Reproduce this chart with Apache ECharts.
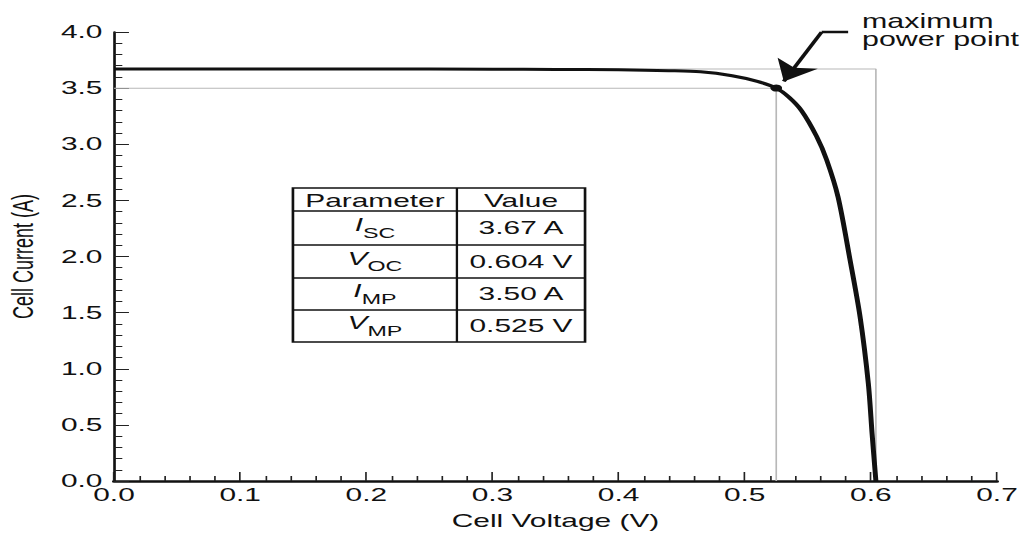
<!DOCTYPE html>
<html>
<head>
<meta charset="utf-8">
<script src="https://cdn.jsdelivr.net/npm/echarts@6.0.0/dist/echarts.min.js"></script>
<style>
  html, body { margin: 0; padding: 0; background: #fff; overflow: hidden; }
  #chart { width: 620px; height: 536px; transform: scaleX(1.6597); transform-origin: 0 0; }
</style>
</head>
<body>
<div id="chart"></div>
<script>
// ---- Data ----
const voltage = [0, 0.1, 0.2, 0.3, 0.35, 0.4, 0.44, 0.465, 0.49, 0.51, 0.525, 0.535, 0.545, 0.557, 0.565, 0.574, 0.5835, 0.5915, 0.598, 0.601, 0.604];
const current = [3.67, 3.67, 3.67, 3.669, 3.667, 3.663, 3.655, 3.645, 3.61, 3.56, 3.50, 3.42, 3.30, 3.07, 2.86, 2.53, 1.97, 1.46, 0.87, 0.42, 0];
const ISC = 3.67, VOC = 0.604, IMP = 3.50, VMP = 0.525;
const xTicks = [0, 0.7, 0.1];   // min, max, interval
const yTicks = [0, 4.0, 0.5];
const arrowX = [0.582, 0.561, 0.531];
const arrowY = [4.0, 4.0, 3.56];
const annotationLines = ['maximum', 'power point'];
const tableHeader = ['Parameter', 'Value'];
const tableParams = [['I', 'SC'], ['V', 'OC'], ['I', 'MP'], ['V', 'MP']];
const tableValues = ['3.67 A', '0.604 V', '3.50 A', '0.525 V'];

const FONT = '"Liberation Sans", Arial, Helvetica, sans-serif';
const chart = echarts.init(document.getElementById('chart'), null, { renderer: 'svg' });

const curveData = voltage.map((v, i) => [v, current[i]]);
const iscBox = [[0, ISC], [VOC, ISC], [VOC, 0]];
const mpBox = [[0, IMP], [VMP, IMP], [VMP, 0]];

// table layout (unscaled px)
const tx = [176.5, 275.3, 352.5];
const ty = [188, 211, 245, 278, 310, 342];
const tableEls = [];
tableEls.push({ type: 'rect', shape: { x: tx[0], y: ty[0], width: tx[2] - tx[0], height: ty[5] - ty[0] },
  style: { fill: '#fff', stroke: '#111', lineWidth: 1.6 } });
tableEls.push({ type: 'line', shape: { x1: tx[1], y1: ty[0], x2: tx[1], y2: ty[5] }, style: { stroke: '#111', lineWidth: 1.4 } });
for (let r = 1; r < 5; r++) {
  tableEls.push({ type: 'line', shape: { x1: tx[0], y1: ty[r], x2: tx[2], y2: ty[r] }, style: { stroke: '#111', lineWidth: 1.6 } });
}
tableHeader.forEach((h, c) => {
  tableEls.push({ type: 'text', x: (tx[c] + tx[c + 1]) / 2, y: (ty[0] + ty[1]) / 2 + 1,
    style: { text: h, font: '18px ' + FONT, fill: '#111', align: 'center', verticalAlign: 'middle' } });
});
tableParams.forEach((p, r) => {
  tableEls.push({ type: 'text', x: (tx[0] + tx[1]) / 2, y: (ty[r + 1] + ty[r + 2]) / 2,
    style: { text: '{it|' + p[0] + '}{sub|' + p[1] + '}', fill: '#111', align: 'center', verticalAlign: 'middle',
      rich: {
        it: { fontFamily: FONT, fontSize: 18, fontStyle: 'italic', fill: '#111', lineHeight: 24, verticalAlign: 'top', padding: [0, 0, 6, 0] },
        sub: { fontFamily: FONT, fontSize: 14, fill: '#111', lineHeight: 24, verticalAlign: 'bottom', padding: [8, 0, 0, 0] }
      } } });
  tableEls.push({ type: 'text', x: (tx[1] + tx[2]) / 2, y: (ty[r + 1] + ty[r + 2]) / 2,
    style: { text: tableValues[r], font: '18px ' + FONT, fill: '#111', align: 'center', verticalAlign: 'middle' } });
});
annotationLines.forEach((t, i) => {
  tableEls.push({ type: 'text', x: 519.4, y: 20.5 + i * 18.3, scaleY: 1.15,
    style: { text: t, font: '18.3px ' + FONT, fill: '#111', align: 'left', verticalAlign: 'middle' } });
});

const axisCommon = {
  nameLocation: 'middle',
  nameTextStyle: { fontFamily: FONT, fontSize: 18, color: '#111' },
  splitLine: { show: false },
  axisTick: { show: true, inside: true, length: 9, lineStyle: { color: '#222', width: 1 } },
  minorTick: { show: true, splitNumber: 5, length: 5, lineStyle: { color: '#222', width: 1 } },
  axisLabel: { fontFamily: FONT, fontSize: 18, color: '#111', formatter: v => v.toFixed(1) }
};

chart.setOption({
  animation: false,
  backgroundColor: '#fff',
  grid: { left: 68.7, right: 19.3, top: 32, bottom: 55, containLabel: false, outerBoundsMode: 'none' },
  xAxis: Object.assign({}, axisCommon, {
    type: 'value', min: xTicks[0], max: xTicks[1], interval: xTicks[2],
    name: 'Cell Voltage (V)', nameGap: 31,
    axisLine: { show: true, lineStyle: { color: '#111', width: 2.5 } },
    axisLabel: Object.assign({}, axisCommon.axisLabel, { margin: 5 })
  }),
  yAxis: Object.assign({}, axisCommon, {
    type: 'value', min: yTicks[0], max: yTicks[1], interval: yTicks[2],
    name: 'Cell Current (A)', nameGap: 46,
    axisLine: { show: true, lineStyle: { color: '#111', width: 1.6 } },
    axisLabel: Object.assign({}, axisCommon.axisLabel, { margin: 7 })
  }),
  series: [
    { type: 'line', data: iscBox, showSymbol: false, clip: false, silent: true,
      lineStyle: { color: '#b8b8b8', width: 1 }, z: 1 },
    { type: 'line', data: mpBox, showSymbol: false, clip: false, silent: true,
      lineStyle: { color: '#b8b8b8', width: 1 }, z: 1 },
    { type: 'line', data: curveData, showSymbol: false, smooth: 0.3, clip: false,
      lineStyle: { color: '#111', width: 3 }, z: 3 },
    { type: 'scatter', data: [[VMP, IMP]], symbol: 'circle', symbolSize: 7, itemStyle: { color: '#111', opacity: 1 }, z: 4 },
    { type: 'line', data: [[arrowX[0], arrowY[0]], [arrowX[1], arrowY[1]]], showSymbol: false, clip: false,
      lineStyle: { color: '#111', width: 2.5 }, z: 4 },
    { type: 'lines', coordinateSystem: 'cartesian2d', clip: false, z: 4,
      symbol: ['none', 'arrow'], symbolSize: 20,
      lineStyle: { color: '#111', width: 2.5, opacity: 1 },
      data: [{ coords: [[arrowX[1], arrowY[1]], [arrowX[2], arrowY[2]]] }] }
  ],
  graphic: tableEls
});
</script>
</body>
</html>
